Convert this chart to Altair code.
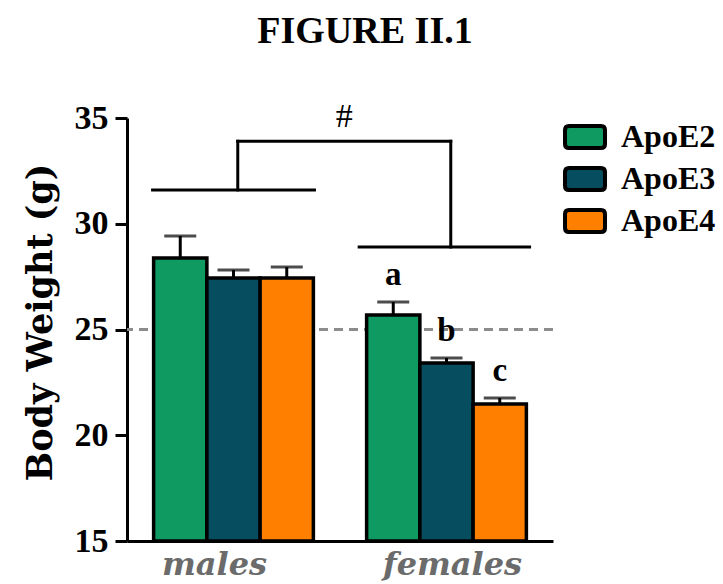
import altair as alt
import pandas as pd

# Body weight by sex and APOE genotype (mean ± SEM)
groups = ["males", "females"]
genotypes = ["ApoE2", "ApoE3", "ApoE4"]
male_means = [28.38, 27.43, 27.43]
male_sem = [1.04, 0.38, 0.52]
female_means = [25.69, 23.42, 21.48]
female_sem = [0.61, 0.23, 0.28]
female_letters = ["a", "b", "c"]

colors = ["#0f9a62", "#064e5f", "#ff7f00"]

# significance bracket levels (body weight units) and group positions (0..2 group axis)
male_level = 31.6
female_level = 28.9
top_level = 33.9
male_span = [0.12, 0.88]
female_span = [1.09, 1.89]
male_stem = 0.52
female_stem = 1.52

rows = []
for g, means, sems in [("males", male_means, male_sem), ("females", female_means, female_sem)]:
    for i, gt in enumerate(genotypes):
        rows.append({
            "group": g, "genotype": gt, "mean": means[i], "sem": sems[i],
            "top": means[i] + sems[i],
            "letter": female_letters[i] if g == "females" else "",
        })
df = pd.DataFrame(rows)

brackets = pd.DataFrame([
    {"x": male_span[0], "x2": male_span[1], "y": male_level, "y2": male_level},
    {"x": male_stem, "x2": male_stem, "y": male_level, "y2": top_level},
    {"x": male_stem, "x2": female_stem, "y": top_level, "y2": top_level},
    {"x": female_stem, "x2": female_stem, "y": top_level, "y2": female_level},
    {"x": female_span[0], "x2": female_span[1], "y": female_level, "y2": female_level},
])
hash_df = pd.DataFrame([{"x": (male_stem + female_stem) / 2, "y": top_level, "t": "#"}])

yscale = alt.Scale(domain=[15, 35], nice=False, zero=False)
xband = alt.Scale(paddingInner=0.25, paddingOuter=0.125)

base = alt.Chart(df)

x_enc = alt.X(
    "group:N", sort=groups, scale=xband, title=None,
    axis=alt.Axis(
        labelAngle=0, ticks=False, domainColor="black", domainWidth=3,
        labelFont="DejaVu Serif", labelFontSize=32, labelFontStyle="italic",
        labelFontWeight="bold", labelColor="#6b6b6b", labelPadding=8,
        labelOffset=alt.expr("datum.value == 'males' ? -19 : 6"),
    ),
)
xoff = alt.XOffset("genotype:N", sort=genotypes)

ref = alt.Chart(pd.DataFrame({"v": [25]})).mark_rule(
    color="#8c8c8c", strokeWidth=3, strokeDash=[9, 6]
).encode(y=alt.Y("v:Q", scale=yscale))

bars = base.mark_bar(stroke="black", strokeWidth=3.5).encode(
    x=x_enc,
    xOffset=xoff,
    y=alt.Y(
        "mean:Q", scale=yscale, title="Body Weight (g)",
        axis=alt.Axis(
            values=[15, 20, 25, 30, 35], grid=False, domainColor="black",
            domainWidth=3, tickColor="black", tickWidth=3, tickSize=12,
            labelFont="Liberation Serif", labelFontSize=34, labelFontWeight="bold",
            labelColor="black", labelPadding=7,
            titleFont="DejaVu Serif", titleFontSize=35, titleFontWeight="bold",
            titleColor="black", titleAngle=-90, titleX=-87, titleY=204,
            titleAlign="center", titleBaseline="middle",
        ),
    ),
    y2=alt.datum(15),
    color=alt.Color(
        "genotype:N", sort=genotypes,
        scale=alt.Scale(domain=genotypes, range=colors),
        legend=alt.Legend(
            title=None, orient="none", legendX=436, legendY=-3,
            symbolType="M-0.8,-0.55H0.8Q1,-0.55 1,-0.35V0.35Q1,0.55 0.8,0.55H-0.8Q-1,0.55 -1,0.35V-0.35Q-1,-0.55 -0.8,-0.55Z",
            symbolSize=1600, symbolStrokeColor="black", symbolStrokeWidth=4,
            symbolOpacity=1, labelFont="Liberation Serif", labelFontSize=32,
            labelFontWeight="bold", labelColor="black", labelOffset=14,
            rowPadding=1,
        ),
    ),
)

stems = base.mark_rule(color="black", strokeWidth=3).encode(
    x=alt.X("group:N", sort=groups, scale=xband),
    xOffset=xoff,
    y=alt.Y("mean:Q", scale=yscale),
    y2="top:Q",
)

caps = base.mark_tick(color="black", thickness=3, size=32).encode(
    x=alt.X("group:N", sort=groups, scale=xband),
    xOffset=xoff,
    y=alt.Y("top:Q", scale=yscale),
)

letters = base.mark_text(
    font="Liberation Serif", fontSize=33, fontWeight="bold", color="black",
    baseline="middle", dy=-27,
).encode(
    x=alt.X("group:N", sort=groups, scale=xband),
    xOffset=xoff,
    y=alt.Y("top:Q", scale=yscale),
    text="letter:N",
)

gx = alt.Scale(domain=[0, 2], nice=False, zero=False)
bracket_lines = alt.Chart(brackets).mark_rule(
    color="black", strokeWidth=3, strokeCap="square"
).encode(
    x=alt.X("x:Q", scale=gx, axis=None),
    x2="x2:Q",
    y=alt.Y("y:Q", scale=yscale),
    y2="y2:Q",
)
hash_mark = alt.Chart(hash_df).mark_text(
    font="Liberation Serif", fontSize=34, color="black", baseline="middle", dy=-24,
).encode(
    x=alt.X("x:Q", scale=gx, axis=None),
    y=alt.Y("y:Q", scale=yscale),
    text="t:N",
)

main = alt.layer(ref, bars, stems, caps, letters)
annot = alt.layer(bracket_lines, hash_mark)

chart = alt.layer(main, annot).resolve_scale(x="independent").properties(
    width=426,
    height=423,
    autosize=alt.AutoSizeParams(type="none"),
    padding={"left": 127, "top": 118, "right": 170, "bottom": 43},
    title=alt.TitleParams(
        "FIGURE II.1", font="Liberation Serif", fontSize=38, fontWeight="bold",
        color="black", anchor="middle", frame="group", dx=25, offset=19,
        baseline="alphabetic",
    ),
).configure(background="white").configure_view(strokeWidth=0, stroke="transparent")

chart.save("out.html", embed_options={"renderer": "svg", "actions": False})
